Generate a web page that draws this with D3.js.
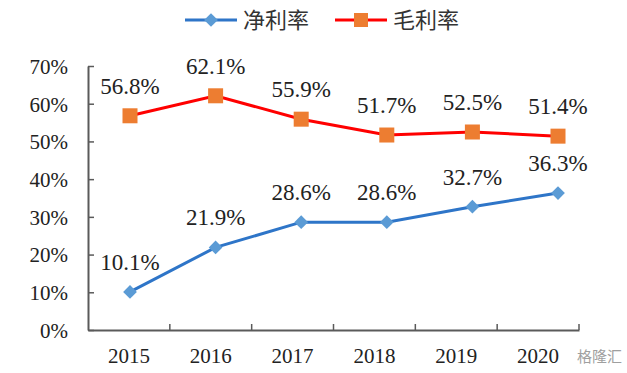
<!DOCTYPE html>
<html>
<head>
<meta charset="utf-8">
<script src="https://cdn.jsdelivr.net/npm/d3@7"></script>
<style>
  body { margin: 0; background: #fff; }
  svg { display: block; }
</style>
</head>
<body>
<div id="chart"></div>
<script>
// data
const years = ["2015", "2016", "2017", "2018", "2019", "2020"];
const netMargin = [10.1, 21.9, 28.6, 28.6, 32.7, 36.3];    // 净利率
const grossMargin = [56.8, 62.1, 55.9, 51.7, 52.5, 51.4];  // 毛利率
const yTicks = [0, 10, 20, 30, 40, 50, 60, 70];

const width = 627, height = 373;
const numFont = '"Liberation Serif"';
const cjkFont = '"Noto Sans CJK SC"';

const svg = d3.select("#chart").append("svg")
  .attr("width", width)
  .attr("height", height);

// axis scale (category bands) and point scale for the markers
const xBand = d3.scaleBand().domain(years).range([88, 579]);
const xPt = d3.scalePoint().domain(years).range([130, 558]);
const y = d3.scaleLinear().domain([0, 70]).range([330, 66]);

const axisColor = "#5a5a5a";

// y axis
const yAxis = svg.append("g")
  .attr("transform", "translate(88,0)")
  .call(d3.axisLeft(y).tickValues(yTicks).tickFormat(d => d + "%").tickSizeInner(-6).tickSizeOuter(0).tickPadding(20));
yAxis.select(".domain").attr("stroke", axisColor).attr("stroke-width", 2);
yAxis.selectAll(".tick line").attr("stroke", axisColor).attr("stroke-width", 1.5);
yAxis.selectAll("text")
  .style("font-family", numFont).style("font-size", "21px").attr("fill", "#222")
  .attr("dy", "0.35em");

// x axis
const xAxis = svg.append("g")
  .attr("transform", "translate(0,330)")
  .call(d3.axisBottom(xBand).tickSize(0).tickPadding(18));
xAxis.select(".domain").attr("stroke", axisColor).attr("stroke-width", 2);
xAxis.selectAll("text")
  .style("font-family", numFont).style("font-size", "21px").attr("fill", "#222");

// inner tick marks on the band boundaries
svg.append("g").selectAll("line")
  .data(years)
  .join("line")
  .attr("x1", d => xBand(d) + xBand.bandwidth())
  .attr("x2", d => xBand(d) + xBand.bandwidth())
  .attr("y1", 330)
  .attr("y2", 324)
  .attr("stroke", axisColor)
  .attr("stroke-width", 1.5);

const line = d3.line()
  .x((d, i) => xPt(years[i]))
  .y(d => y(d));

// 毛利率 line
svg.append("path")
  .datum(grossMargin)
  .attr("fill", "none")
  .attr("stroke", "#ff0000")
  .attr("stroke-width", 3)
  .attr("d", line);

svg.append("g").selectAll("rect")
  .data(grossMargin)
  .join("rect")
  .attr("x", (d, i) => xPt(years[i]) - 7.5)
  .attr("y", d => y(d) - 7.5)
  .attr("width", 15)
  .attr("height", 15)
  .attr("fill", "#ed7d31");

// 净利率 line
svg.append("path")
  .datum(netMargin)
  .attr("fill", "none")
  .attr("stroke", "#2e75c8")
  .attr("stroke-width", 3)
  .attr("d", line);

const diamond = d3.symbol().type(d3.symbolDiamond2).size(120);
svg.append("g").selectAll("path")
  .data(netMargin)
  .join("path")
  .attr("transform", (d, i) => `translate(${xPt(years[i])},${y(d)})`)
  .attr("d", diamond)
  .attr("fill", "#5b9bd5");

// value labels
function labels(values) {
  svg.append("g").selectAll("text")
    .data(values)
    .join("text")
    .attr("x", (d, i) => xPt(years[i]))
    .attr("y", d => y(d) - 22)
    .attr("text-anchor", "middle")
    .style("font-family", numFont)
    .style("font-size", "23px")
    .attr("fill", "#222")
    .text(d => d.toFixed(1) + "%");
}
labels(grossMargin);
labels(netMargin);

// legend
const legend = svg.append("g");
legend.append("line").attr("x1", 185).attr("x2", 237).attr("y1", 20).attr("y2", 20)
  .attr("stroke", "#2e75c8").attr("stroke-width", 3);
legend.append("path").attr("transform", "translate(211,20)").attr("d", diamond).attr("fill", "#5b9bd5");
legend.append("text").attr("x", 243).attr("y", 28)
  .style("font-family", cjkFont).style("font-size", "22px").attr("fill", "#333")
  .text("净利率");

legend.append("line").attr("x1", 335).attr("x2", 387).attr("y1", 20).attr("y2", 20)
  .attr("stroke", "#ff0000").attr("stroke-width", 3);
legend.append("rect").attr("x", 354).attr("y", 13).attr("width", 14).attr("height", 14).attr("fill", "#ed7d31");
legend.append("text").attr("x", 393).attr("y", 28)
  .style("font-family", cjkFont).style("font-size", "22px").attr("fill", "#333")
  .text("毛利率");

// watermark
svg.append("text")
  .attr("x", 622).attr("y", 362)
  .attr("text-anchor", "end")
  .style("font-family", cjkFont).style("font-size", "15px")
  .attr("fill", "#888").attr("opacity", 0.8)
  .text("格隆汇");
</script>
</body>
</html>
